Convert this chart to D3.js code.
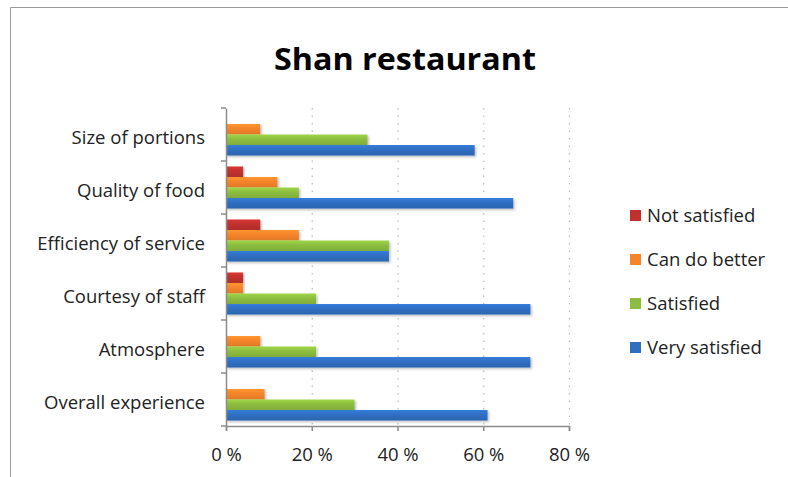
<!DOCTYPE html>
<html>
<head>
<meta charset="utf-8">
<script src="https://cdn.jsdelivr.net/npm/d3@7"></script>
<style>
  html, body { margin: 0; padding: 0; background: #fff; }
  svg { display: block; font-family: "Open Sans", "Noto Sans", sans-serif; }
</style>
</head>
<body>
<svg id="chart" width="788" height="477"></svg>
<script>
// Survey categories, top to bottom
const categories = [
  "Size of portions",
  "Quality of food",
  "Efficiency of service",
  "Courtesy of staff",
  "Atmosphere",
  "Overall experience"
];

// Response series (percent of respondents), drawn top to bottom within each group
const seriesNames = ["Not satisfied", "Can do better", "Satisfied", "Very satisfied"];
const notSatisfied  = [0, 4, 8, 4, 0, 0];
const canDoBetter   = [8, 12, 17, 4, 8, 9];
const satisfied     = [33, 17, 38, 21, 21, 30];
const verySatisfied = [58, 67, 38, 71, 71, 61];
const seriesValues = [notSatisfied, canDoBetter, satisfied, verySatisfied];
const seriesColors = ["#C0312E", "#F5842A", "#8CBD3F", "#2F6EC1"];

const xTicks = [0, 20, 40, 60, 80];

const labelFont = 18.5;
const svg = d3.select("#chart");

// Chart frame (top and left edges)
svg.append("path")
  .attr("d", "M10.5,477 V7.5 H788")
  .attr("fill", "none")
  .attr("stroke", "#9a9a9a")
  .attr("stroke-width", 1);

// Title
svg.append("text")
  .attr("x", 405)
  .attr("y", 70)
  .attr("text-anchor", "middle")
  .attr("font-size", 31)
  .attr("font-weight", "bold")
  .attr("fill", "#000")
  .style("font-family", "'Open Sans', sans-serif")
  .attr("textLength", 262)
  .attr("lengthAdjust", "spacingAndGlyphs")
  .text("Shan restaurant");

const plot = { left: 226, right: 569, top: 108, bottom: 426 };

const x = d3.scaleLinear().domain([0, 80]).range([plot.left, plot.right]);
const y = d3.scaleBand().domain(categories).range([plot.top, plot.bottom]).paddingInner(0).paddingOuter(0);
const inner = d3.scaleBand().domain(seriesNames)
  .range([0, y.bandwidth()]).paddingInner(0).paddingOuter(0.52);

// Gradients for a soft bar sheen
const defs = svg.append("defs");
seriesColors.forEach((c, i) => {
  const g = defs.append("linearGradient")
    .attr("id", "grad" + i).attr("x1", 0).attr("y1", 0).attr("x2", 0).attr("y2", 1);
  g.append("stop").attr("offset", "0%").attr("stop-color", d3.color(c).brighter(0.35));
  g.append("stop").attr("offset", "45%").attr("stop-color", c);
  g.append("stop").attr("offset", "100%").attr("stop-color", d3.color(c).darker(0.25));
});
const shadow = defs.append("filter").attr("id", "shadow")
  .attr("x", "-5%").attr("y", "-30%").attr("width", "115%").attr("height", "190%");
shadow.append("feDropShadow").attr("dx", 1.5).attr("dy", 1.5)
  .attr("stdDeviation", 1.2).attr("flood-color", "#000").attr("flood-opacity", 0.25);

// Dotted vertical gridlines
svg.append("g")
  .selectAll("line")
  .data(xTicks.filter(t => t > 0))
  .join("line")
  .attr("x1", d => x(d) + 0.5).attr("x2", d => x(d) + 0.5)
  .attr("y1", plot.top).attr("y2", plot.bottom)
  .attr("stroke", "#b8b8b8")
  .attr("stroke-width", 1.2)
  .attr("stroke-dasharray", "1.5,6");

// Bars
const groups = svg.append("g")
  .selectAll("g")
  .data(categories)
  .join("g")
  .attr("transform", d => `translate(0,${y(d)})`);

groups.selectAll("rect")
  .data((cat, ci) => seriesNames.map((s, si) => ({ s, si, v: seriesValues[si][ci] })))
  .join("rect")
  .filter(d => d.v > 0)
  .attr("x", x(0))
  .attr("y", d => inner(d.s))
  .attr("width", d => x(d.v) - x(0))
  .attr("height", inner.bandwidth())
  .attr("fill", d => `url(#grad${d.si})`)
  .attr("filter", "url(#shadow)");

// Category axis
const yAxis = svg.append("g")
  .attr("transform", `translate(${plot.left},0)`)
  .call(d3.axisLeft(y).tickSize(0).tickPadding(21));
yAxis.select(".domain").attr("stroke", "#8c8c8c").attr("stroke-width", 1.5);
yAxis.selectAll("text")
  .attr("font-size", labelFont)
  .attr("fill", "#222")
  .attr("dy", "0.5em")
  .style("font-family", "'Open Sans', sans-serif");
// Tick marks at category boundaries
const boundaries = categories.map(c => y(c)).concat([plot.bottom]);
yAxis.selectAll("line.bound")
  .data(boundaries)
  .join("line")
  .attr("class", "bound")
  .attr("x1", -5).attr("x2", 0)
  .attr("y1", d => d).attr("y2", d => d)
  .attr("stroke", "#8c8c8c").attr("stroke-width", 1.5);

// Value axis
const xAxis = svg.append("g")
  .attr("transform", `translate(0,${plot.bottom})`)
  .call(d3.axisBottom(x).tickValues(xTicks).tickSize(5).tickPadding(17)
    .tickFormat(d => d + " %"));
xAxis.select(".domain").attr("stroke", "#8c8c8c").attr("stroke-width", 1.5);
xAxis.selectAll(".tick line").attr("stroke", "#8c8c8c").attr("stroke-width", 1.5);
xAxis.selectAll("text")
  .attr("font-size", labelFont)
  .attr("fill", "#222")
  .style("font-family", "'Open Sans', sans-serif");

// Legend
const legend = svg.append("g").attr("transform", "translate(630,216)");
const items = legend.selectAll("g")
  .data(seriesNames)
  .join("g")
  .attr("transform", (d, i) => `translate(0,${i * 44})`);
items.append("rect")
  .attr("x", 0).attr("y", -6)
  .attr("width", 11).attr("height", 11)
  .attr("fill", (d, i) => seriesColors[i]);
items.append("text")
  .attr("x", 17).attr("y", 0)
  .attr("dy", "0.35em")
  .attr("font-size", labelFont)
  .attr("fill", "#222")
  .style("font-family", "'Open Sans', sans-serif")
  .text(d => d);
</script>
</body>
</html>
